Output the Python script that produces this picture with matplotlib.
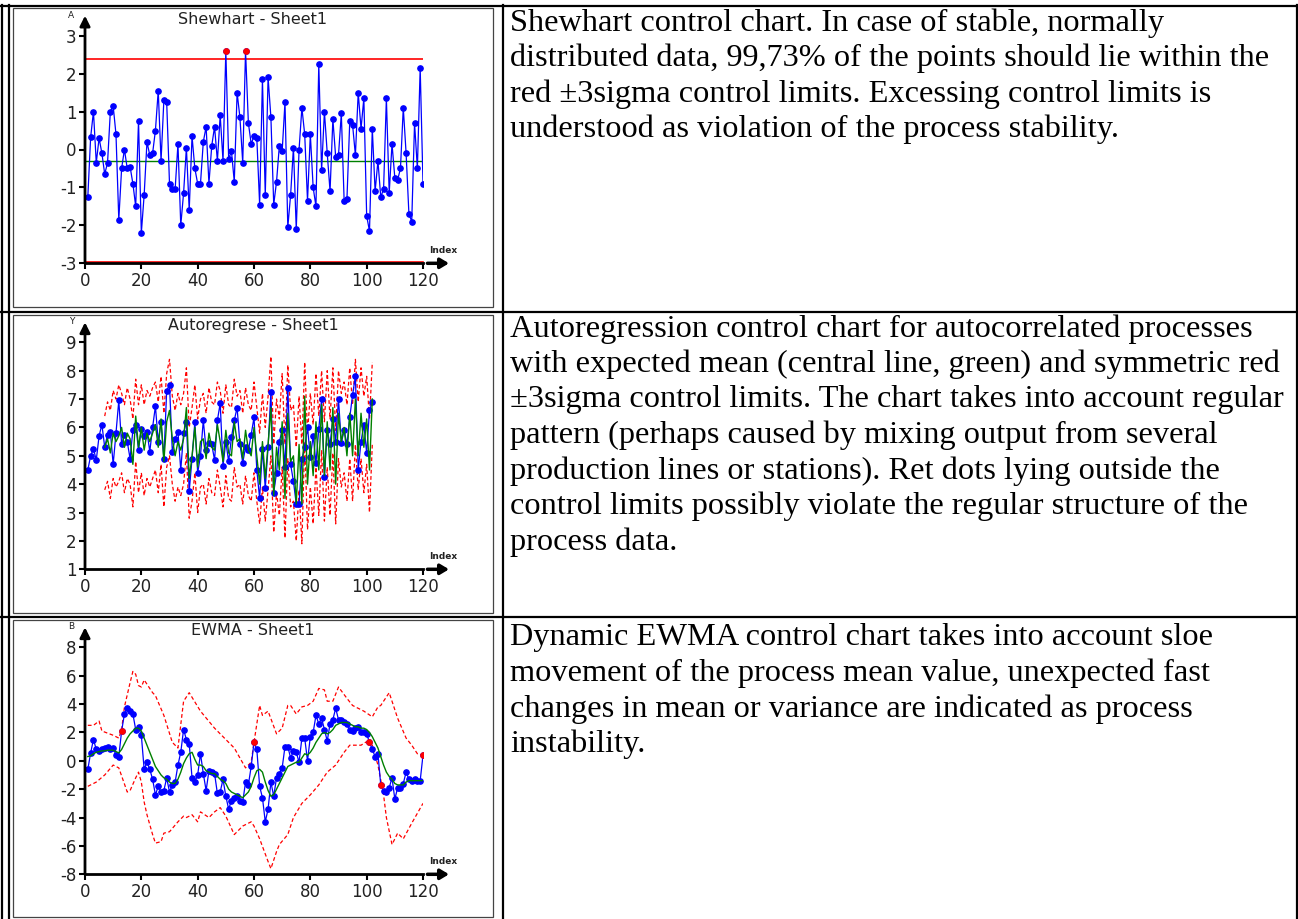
import numpy as np
import matplotlib.pyplot as plt
from matplotlib.patches import Rectangle

plt.rcParams['axes.unicode_minus'] = False

W, H = 1298, 919

# ---- Shewhart data ----
shew_idx = np.arange(1, 121)
shew_vals = [-1.25, 0.32, 1.0, -0.35, 0.3, -0.1, -0.65, -0.35, 1.0, 1.15,
             0.4, -1.85, -0.5, 0.0, -0.5, -0.45, -0.9, -1.5, 0.75, -2.2,
             -1.2, 0.2, -0.15, -0.1, 0.5, 1.55, -0.3, 1.3, 1.25, -0.9,
             -1.05, -1.05, 0.15, -2.0, -1.15, 0.05, -1.6, 0.35, -0.5, -0.9,
             -0.9, 0.2, 0.6, -0.9, 0.1, 0.6, -0.3, 0.9, -0.3, 2.6,
             -0.25, -0.05, -0.85, 1.5, 0.85, -0.35, 2.6, 0.7, 0.15, 0.35,
             0.3, -1.45, 1.85, -1.2, 1.9, 0.85, -1.45, -0.85, 0.1, -0.05,
             1.25, -2.05, -1.2, 0.05, -2.1, 0.0, 1.1, 0.4, -1.35, 0.4,
             -1.0, -1.5, 2.25, -0.55, 1.0, -0.1, -1.1, 0.8, -0.2, -0.15,
             0.95, -1.35, -1.3, 0.75, 0.65, -0.15, 1.5, 0.55, 1.35, -1.75,
             -2.15, 0.55, -1.1, -0.3, -1.25, -1.05, 1.35, -1.15, 0.15, -0.75,
             -0.8, -0.5, 1.1, -0.1, -1.7, -1.9, 0.7, -0.5, 2.15, -0.9]
shew_center = -0.3
shew_ucl = 2.38
shew_lcl = -2.97

# ---- Autoregression data ----
ar_idx = np.arange(1, 103)
ar_vals = [4.5, 5.0, 5.25, 4.85, 5.7, 6.1, 5.3, 5.75, 5.85, 4.7,
           5.8, 6.95, 5.4, 5.75, 5.5, 4.9, 5.9, 6.1, 5.2, 5.95,
           5.7, 5.85, 5.15, 6.0, 6.75, 5.5, 6.2, 4.9, 7.3, 7.5,
           5.15, 5.6, 5.85, 4.5, 5.8, 6.2, 3.75, 4.9, 6.2, 4.4,
           5.0, 6.25, 5.2, 5.45, 5.4, 4.85, 6.25, 6.85, 4.65, 5.5,
           4.8, 5.65, 6.25, 6.7, 5.4, 4.75, 5.3, 5.2, 5.75, 6.35,
           4.5, 3.5, 5.25, 3.85, 5.3, 7.25, 3.7, 4.4, 5.5, 5.9,
           4.6, 7.4, 4.7, 4.1, 3.3, 3.3, 4.9, 5.3, 6.0, 4.95,
           5.7, 4.75, 5.95, 7.0, 4.25, 5.9, 5.4, 6.3, 5.5, 7.0,
           5.45, 5.9, 5.4, 6.35, 7.15, 7.8, 4.5, 5.5, 6.1, 5.1,
           6.6, 6.9]
ar_lim_idx = np.arange(7, 103)
ar_mean = [5.3, 5.6, 5.1, 5.8, 5.5, 5.7, 6.0, 5.3, 5.8, 5.6,
           4.7, 6.4, 5.3, 6.0, 5.2, 5.8, 5.5, 5.8, 6.1, 5.3,
           6.3, 4.8, 6.2, 6.6, 5.6, 5.0, 5.5, 5.2, 5.6, 6.7,
           4.2, 5.0, 6.0, 4.6, 5.5, 5.6, 4.9, 5.8, 5.3, 5.2,
           6.1, 5.5, 4.8, 5.9, 5.1, 5.0, 6.2, 5.5, 5.6, 4.9,
           5.9, 5.2, 5.0, 6.0, 5.0, 4.0, 5.5, 4.2, 5.4, 6.7,
           3.6, 5.3, 4.5, 6.2, 3.5, 6.5, 4.8, 5.0, 3.3, 5.4,
           3.3, 7.1, 4.0, 5.5, 4.3, 6.2, 4.5, 6.8, 4.3, 6.2,
           4.5, 6.7, 4.0, 6.5, 5.5, 6.0, 5.0, 6.5, 5.0, 7.0,
           5.0, 6.5, 5.3, 6.3, 4.5, 7.0]
ar_upper = [6.4, 6.9, 6.6, 7.3, 7.0, 7.5, 7.2, 6.8, 7.4, 7.0,
            6.3, 7.7, 6.8, 7.5, 6.8, 7.3, 7.1, 7.4, 7.6, 6.9,
            7.8, 6.5, 7.9, 8.4, 7.1, 6.6, 7.2, 6.8, 7.2, 8.1,
            6.0, 6.7, 7.5, 6.3, 7.0, 7.2, 6.5, 7.4, 6.9, 6.8,
            7.6, 7.3, 6.5, 7.5, 6.8, 6.7, 7.7, 7.1, 7.3, 6.5,
            7.4, 6.8, 6.6, 7.6, 6.7, 5.8, 7.2, 6.0, 7.1, 8.5,
            5.4, 7.0, 6.3, 7.9, 5.4, 8.2, 6.6, 6.8, 5.3, 7.1,
            5.4, 8.3, 5.8, 7.2, 6.1, 7.9, 6.4, 8.0, 6.2, 8.0,
            6.3, 8.1, 5.9, 8.0, 7.2, 7.6, 6.8, 8.1, 6.8, 8.4,
            6.9, 8.1, 7.1, 7.8, 6.3, 8.3]
ar_lower = [3.8, 4.1, 3.5, 4.2, 3.9, 4.1, 4.4, 3.7, 4.2, 4.0,
            3.2, 4.8, 3.7, 4.4, 3.6, 4.2, 3.9, 4.2, 4.5, 3.7,
            4.7, 3.2, 4.6, 5.0, 4.0, 3.4, 3.9, 3.6, 4.0, 5.1,
            2.8, 3.4, 4.4, 3.0, 3.9, 4.0, 3.3, 4.2, 3.7, 3.6,
            4.5, 3.9, 3.2, 4.3, 3.5, 3.4, 4.6, 3.9, 4.0, 3.3,
            4.3, 3.6, 3.4, 4.4, 3.4, 2.6, 3.9, 2.7, 3.8, 5.0,
            2.3, 3.7, 2.9, 4.6, 2.1, 4.9, 3.2, 3.4, 2.0, 3.8,
            1.9, 5.5, 2.4, 3.9, 2.6, 4.6, 2.9, 5.2, 2.7, 4.6,
            2.9, 5.1, 2.6, 4.9, 3.9, 4.4, 3.4, 4.9, 3.4, 5.4,
            3.8, 4.9, 3.7, 4.7, 3.0, 5.4]

# ---- EWMA data ----
ew_idx = np.arange(1, 121)
ew_vals = [-0.6, 0.55, 1.5, 0.8, 0.7, 0.8, 0.9, 0.95, 0.8, 0.9,
           0.4, 0.3, 2.1, 3.3, 3.7, 3.5, 3.3, 2.2, 2.4, 1.8,
           -0.6, -0.1, -0.6, -1.3, -2.4, -1.8, -2.2, -2.1, -1.2, -2.2,
           -1.7, -1.5, -0.3, 0.6, 2.2, 1.5, 1.2, -1.2, -1.5, -1.0,
           0.5, -0.9, -2.1, -0.7, -0.8, -0.9, -2.3, -2.2, -1.3, -2.5,
           -3.4, -2.8, -2.6, -2.5, -2.8, -2.9, -1.5, -1.7, -0.4, 1.3,
           0.8, -1.8, -2.6, -4.3, -3.4, -1.5, -2.5, -1.2, -0.9, -0.5,
           1.0, 1.0, 0.2, 0.7, 0.6, -0.1, 1.6, 1.6, 0.0, 1.7,
           2.0, 3.2, 2.6, 3.0, 2.2, 1.4, 2.6, 2.9, 3.7, 2.9,
           2.9, 2.7, 2.6, 2.2, 2.1, 2.3, 2.4, 2.0, 2.0, 1.9,
           1.3, 0.8, 0.3, 0.5, -1.7, -2.1, -2.2, -1.9, -1.2, -2.7,
           -1.9, -1.9, -1.6, -0.8, -1.3, -1.4, -1.3, -1.4, -1.4, 0.4]
ew_mean = [0.3, 0.35, 0.5, 0.6, 0.65, 0.7, 0.7, 0.75, 0.75, 0.75,
           0.65, 0.55, 0.8, 1.2, 1.6, 1.9, 2.1, 2.3, 2.3, 2.1,
           1.6, 1.1, 0.6, 0.1, -0.4, -0.7, -1.0, -1.2, -1.3, -1.5,
           -1.6, -1.6, -1.3, -0.8, -0.2, 0.2, 0.5, 0.6, 0.1, -0.3,
           -0.3, -0.4, -0.7, -0.8, -0.9, -0.9, -1.1, -1.3, -1.4, -1.6,
           -2.0, -2.2, -2.3, -2.4, -2.5, -2.6, -2.4, -2.2, -1.8, -1.2,
           -0.7, -0.6, -0.8, -1.5, -2.1, -2.5, -2.4, -2.0, -1.6, -1.2,
           -0.8, -0.4, -0.3, -0.2, -0.1, -0.1, 0.2, 0.5, 0.4, 0.6,
           0.9, 1.3, 1.6, 1.9, 2.0, 1.9, 2.0, 2.2, 2.5, 2.6,
           2.7, 2.7, 2.7, 2.6, 2.5, 2.4, 2.4, 2.3, 2.3, 2.2,
           2.0, 1.7, 1.3, 0.9, 0.3, -0.3, -0.8, -1.1, -1.3, -1.6,
           -1.7, -1.7, -1.7, -1.5, -1.4, -1.4, -1.4, -1.4, -1.4, -1.4]
ew_up_idx = [1, 3, 5, 6, 10, 12, 13, 14, 16, 17, 18, 19, 20, 21, 22, 24, 25,
             28, 31, 33, 35, 37, 41, 46, 53, 57, 59, 60, 62, 63, 65, 68, 70,
             72, 73, 75, 77, 79, 81, 83, 85, 86, 88, 90, 93, 95, 99, 102,
             104, 105, 108, 109, 111, 114, 116, 118, 120]
ew_upper = [2.5, 2.5, 2.8, 2.1, 1.8, 1.6, 2.2, 3.8, 5.5, 6.3, 6.1, 5.3, 5.2,
            5.7, 5.4, 4.8, 4.6, 3.2, 1.3, 0.9, 4.2, 4.8, 3.5, 2.3, 0.9,
            -0.5, -0.1, 1.3, 3.9, 3.2, 3.5, 1.9, 2.3, 3.9, 3.9, 3.3, 3.8,
            3.9, 4.2, 5.1, 5.0, 4.2, 4.2, 5.2, 4.4, 3.9, 3.5, 3.1, 3.8,
            3.9, 4.8, 4.2, 3.0, 1.6, 1.1, 0.5, 0.4]
ew_lo_idx = [1, 4, 7, 10, 12, 15, 16, 18, 19, 20, 21, 22, 24, 25, 27, 28,
             30, 33, 35, 36, 38, 40, 41, 44, 46, 48, 50, 53, 56, 59, 60, 62,
             65, 66, 68, 69, 72, 74, 77, 80, 83, 86, 89, 92, 94, 98, 100,
             102, 104, 106, 107, 109, 111, 113, 116, 120]
ew_lower = [-1.8, -1.5, -1.0, -0.3, -0.5, -2.2, -2.1, -1.2, -0.8, -1.5,
            -2.9, -3.8, -5.2, -5.8, -5.7, -5.1, -5.0, -4.3, -3.9, -4.0,
            -3.8, -4.3, -3.6, -4.0, -3.6, -3.3, -3.9, -5.2, -4.6, -4.3,
            -4.6, -5.5, -7.1, -7.6, -6.4, -5.9, -5.2, -4.0, -3.0, -2.4,
            -1.7, -0.8, -0.3, 0.6, 1.1, 1.1, 1.35, 1.1, -0.3, -2.4,
            -4.0, -5.9, -5.1, -5.5, -4.4, -3.0]
ew_alarm_idx = [13, 60, 101, 105, 120]

text_rows = [
    ["Shewhart control chart. In case of stable, normally",
     "distributed data, 99,73% of the points should lie within the",
     "red \u00b13sigma control limits. Excessing control limits is",
     "understood as violation of the process stability."],
    ["Autoregression control chart for autocorrelated processes",
     "with expected mean (central line, green) and symmetric red",
     "\u00b13sigma control limits. The chart takes into account regular",
     "pattern (perhaps caused by mixing output from several",
     "production lines or stations). Ret dots lying outside the",
     "control limits possibly violate the regular structure of the",
     "process data."],
    ["Dynamic EWMA control chart takes into account sloe",
     "movement of the process mean value, unexpected fast",
     "changes in mean or variance are indicated as process",
     "instability."],
]

fig = plt.figure(figsize=(W / 100, H / 100), dpi=100)

# background layer in pixel coordinates: table grid, frames, text
bg = fig.add_axes([0, 0, 1, 1])
bg.set_xlim(0, W)
bg.set_ylim(H, 0)
bg.axis('off')

for x in [1.5, 8.5, 503, 1296.5]:
    bg.plot([x, x], [5, H], color='black', lw=1.6)
for y in [6, 311.5, 617]:
    bg.plot([0, W], [y, y], color='black', lw=1.6)

for top, bot in [(8, 307), (314.5, 613), (619.5, 917)]:
    bg.add_patch(Rectangle((12.7, top), 480.5, bot - top, fill=False,
                           edgecolor='#444444', lw=0.9))

row_starts = [23, 329, 638]
for y0, lines in zip(row_starts, text_rows):
    for i, line in enumerate(lines):
        bg.text(510, y0 + i * 35.5, line, fontsize=23.3, family='Liberation Serif',
                va='center', ha='left', color='black')


def make_chart(top_px, bot_px, ylo, yhi, ystep, title, ylab):
    ax = fig.add_axes([85 / W, 1 - bot_px / H, 338 / W, (bot_px - top_px) / H])
    ax.patch.set_alpha(0)
    ax.set_xlim(0, 120)
    ax.set_ylim(ylo, yhi)
    ax.set_xticks(range(0, 121, 20))
    ax.set_yticks(np.arange(ylo, yhi + 0.1, ystep))
    ax.set_yticklabels([str(int(v)) for v in np.arange(ylo, yhi + 0.1, ystep)])
    for s in ['top', 'right', 'left']:
        ax.spines[s].set_visible(False)
    ax.spines['bottom'].set_linewidth(2)
    ax.tick_params(direction='out', length=4, width=1.5, labelsize=12, pad=2,
                   colors='black', labelcolor='#222222')
    ax.annotate('', xy=(0, 1.088), xytext=(0, 0), xycoords='axes fraction',
                arrowprops=dict(arrowstyle='-|>,head_length=0.6,head_width=0.3',
                                lw=2, color='black', shrinkA=0, shrinkB=0))
    ax.annotate('', xy=(1.077, 0), xytext=(1.013, 0), xycoords='axes fraction',
                arrowprops=dict(arrowstyle='-|>,head_length=0.5,head_width=0.3',
                                lw=2.5, color='black', shrinkA=0, shrinkB=0))
    ax.text(1.06, 0.035, 'Index', transform=ax.transAxes, fontsize=6.5,
            ha='center', va='bottom', fontweight='bold', color='#222222')
    ax.text(-0.04, 1.09, ylab, transform=ax.transAxes, fontsize=6.5,
            ha='center', va='center', color='#222222')
    ax.text(0.497, 1.073, title, transform=ax.transAxes, fontsize=11.5,
            ha='center', va='center', color='#222222')
    return ax


# Shewhart
ax1 = make_chart(35.7, 263.3, -3, 3, 1, 'Shewhart - Sheet1', 'A')
ax1.plot([0, 120], [shew_ucl, shew_ucl], color='red', lw=1.2)
ax1.plot([0, 120], [shew_lcl, shew_lcl], color='red', lw=1.2, clip_on=False)
ax1.plot([0, 120], [shew_center, shew_center], color='green', lw=1.0)
ax1.plot(shew_idx, shew_vals, color='blue', lw=0.9, marker='o', ms=3.8)
sv = np.array(shew_vals)
out = sv > shew_ucl
ax1.plot(shew_idx[out], sv[out], 'o', color='red', ms=3.8)

# Autoregression
ax2 = make_chart(342.3, 569.3, 1, 9, 1, 'Autoregrese - Sheet1', 'Y')
ax2.plot(ar_lim_idx, ar_upper, color='red', lw=0.9, ls=(0, (3, 2)))
ax2.plot(ar_lim_idx, ar_lower, color='red', lw=0.9, ls=(0, (3, 2)))
ax2.plot(ar_idx, ar_vals, color='blue', lw=0.9, marker='o', ms=3.8)
ax2.plot(ar_lim_idx, ar_mean, color='green', lw=1.0)

# EWMA
ax3 = make_chart(647.3, 874.3, -8, 8, 2, 'EWMA - Sheet1', 'B')
ax3.plot(ew_up_idx, ew_upper, color='red', lw=0.9, ls=(0, (3, 2)))
ax3.plot(ew_lo_idx, ew_lower, color='red', lw=0.9, ls=(0, (3, 2)))
ax3.plot(ew_idx, ew_vals, color='blue', lw=0.9, marker='o', ms=3.8)
ax3.plot(ew_idx, ew_mean, color='green', lw=1.0)
ev = np.array(ew_vals)
alarm = np.array(ew_alarm_idx)
ax3.plot(alarm, ev[alarm - 1], 'o', color='red', ms=3.8)

fig.savefig('out.png', dpi=100)
